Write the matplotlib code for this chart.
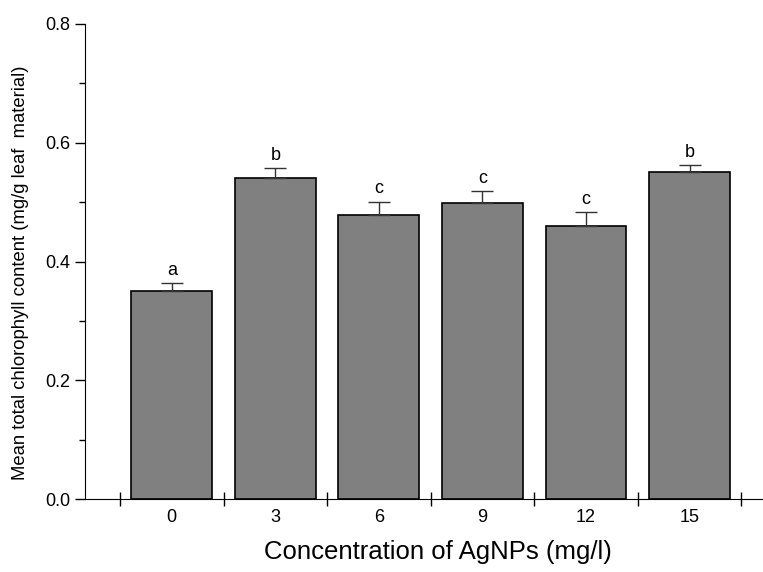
import numpy as np
import matplotlib.pyplot as plt
from matplotlib.ticker import MultipleLocator, FixedLocator

# Data
concentrations = ['0', '3', '6', '9', '12', '15']
chlorophyll = [0.350, 0.541, 0.478, 0.498, 0.460, 0.550]
err_upper = [0.013, 0.017, 0.023, 0.021, 0.023, 0.012]
letters = ['a', 'b', 'c', 'c', 'c', 'b']

plt.rcParams['font.family'] = ['Liberation Sans', 'DejaVu Sans']

fig = plt.figure(figsize=(7.63, 5.72), dpi=100)
# the x axis runs off the right edge of the figure in the original
ax = fig.add_axes([85 / 763, 73 / 572, 706 / 763, 475 / 572])

x = np.arange(1, len(concentrations) + 1)
ax.bar(x, chlorophyll, width=0.78, color='#808080', edgecolor='black', linewidth=1.2, zorder=2)
ax.errorbar(x, chlorophyll, yerr=[np.zeros(len(x)), err_upper], fmt='none',
            ecolor='#333333', elinewidth=1, capsize=8, capthick=1, zorder=3)

for xi, v, e, s in zip(x, chlorophyll, err_upper, letters):
    ax.text(xi, v + e + 0.007, s, ha='center', va='bottom', fontsize=13)

ax.set_xlim(0.162, 6.98)
ax.set_ylim(0, 0.8)

ax.spines['top'].set_visible(False)
ax.spines['right'].set_visible(False)
ax.spines['left'].set_bounds(0, 0.8)

ax.yaxis.set_minor_locator(MultipleLocator(0.1))
ax.set_yticks([0.0, 0.2, 0.4, 0.6, 0.8])
ax.set_yticklabels(['0.0', '0.2', '0.4', '0.6', '0.8'])
ax.tick_params(axis='y', which='major', direction='out', length=7, width=1, labelsize=13)
ax.tick_params(axis='y', which='minor', direction='out', length=4, width=1)

# major x ticks between bars, labels at bar centres
ax.xaxis.set_major_locator(FixedLocator(np.arange(0.5, 7.0, 1.0)))
ax.set_xticklabels([''] * 7)
ax.set_xticks(x, concentrations, minor=True)
ax.tick_params(axis='x', which='major', direction='inout', length=10, width=1)
ax.tick_params(axis='x', which='minor', direction='in', length=2, width=0.8,
               color='#999999', labelsize=13, pad=7)

ax.set_xlabel('Concentration of AgNPs (mg/l)', fontsize=18.5, labelpad=10)
ax.set_ylabel('Mean total chlorophyll content (mg/g leaf  material)', fontsize=13.3)
ax.yaxis.set_label_coords(-0.079, 0.476)

fig.savefig('out.png', dpi=100)
